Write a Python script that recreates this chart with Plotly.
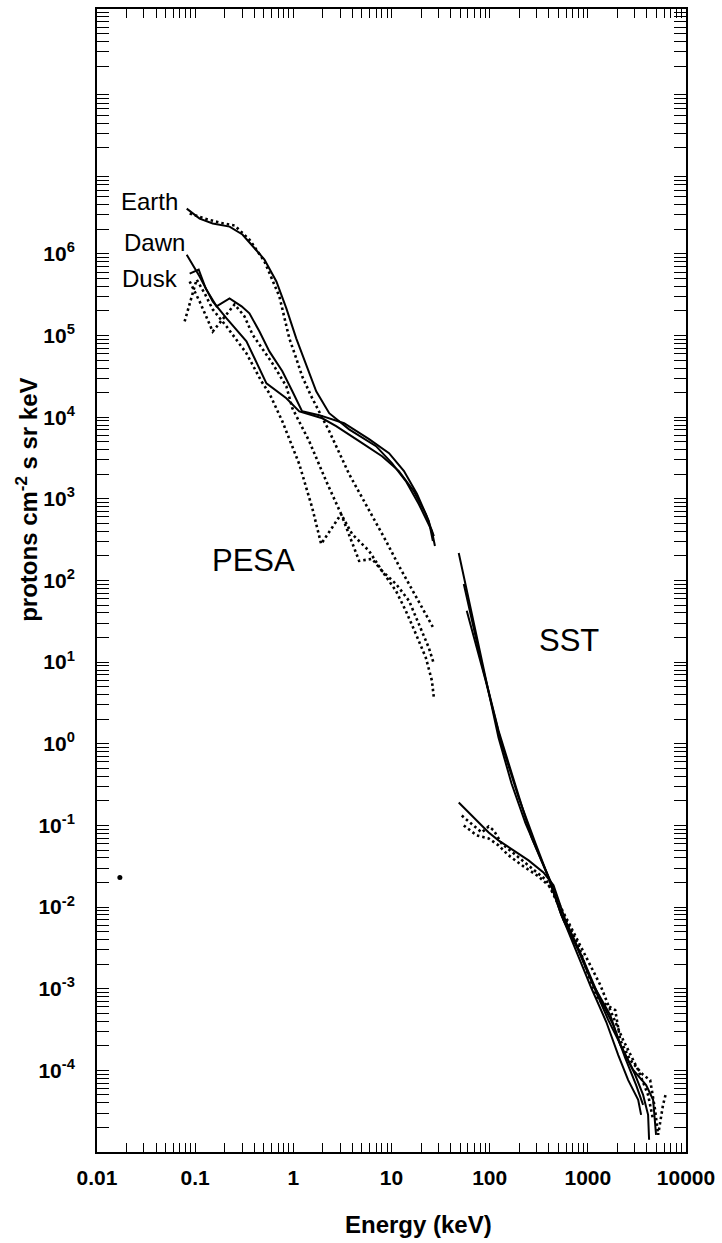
import plotly.graph_objects as go

# ---------------- data (energy keV, flux protons/(cm2 s sr keV)) ----------------
# PESA range
pesa_earth_solid_kev = [0.082, 0.111, 0.151, 0.224, 0.303, 0.508, 0.672, 0.849, 1.07, 1.36, 1.71, 2.32, 3.70, 6.96, 10.1, 14.0, 19.0, 25.8, 27.7]
pesa_earth_solid_flux = [3.59e6, 2.71e6, 2.36e6, 2.16e6, 1.73e6, 8.55e5, 4.6e5, 2.15e5, 9.25e4, 4.44e4, 2.08e4, 1.12e4, 7.1e3, 4.42e3, 2.74e3, 1.65e3, 8.6e2, 4.04e2, 2.65e2]

pesa_dawn_solid_kev = [0.082, 0.111, 0.151, 0.209, 0.333, 0.532, 0.849, 1.15, 1.97, 2.73, 4.68, 8.01, 11.9, 16.9, 22.4, 27.0]
pesa_dawn_solid_flux = [9.8e5, 5.3e5, 2.62e5, 1.62e5, 8.5e4, 2.6e4, 1.71e4, 1.18e4, 9.7e3, 7.76e3, 5.1e3, 3.33e3, 2.19e3, 1.24e3, 6.5e2, 3.5e2]

pesa_dusk_solid_kev = [0.0879, 0.1086, 0.128, 0.165, 0.224, 0.297, 0.357, 0.452, 0.570, 0.773, 0.977, 1.23, 1.84, 3.29, 5.91, 9.44, 13.4, 18.2, 24.0, 26.4]
pesa_dusk_solid_flux = [5.75e5, 6.45e5, 3.78e5, 2.28e5, 2.85e5, 2.28e5, 1.87e5, 1.12e5, 6.4e4, 3.65e4, 2.08e4, 1.18e4, 1.06e4, 8.45e3, 5.38e3, 3.63e3, 2.19e3, 1.15e3, 5.36e2, 3.05e2]

pesa_earth_dot_kev = [0.0879, 0.125, 0.177, 0.252, 0.357, 0.508, 0.721, 0.910, 1.07, 1.23, 1.52, 2.32, 3.70, 5.51, 8.79, 11.9, 15.1, 20.4, 27.0]
pesa_earth_dot_flux = [3.12e6, 2.71e6, 2.42e6, 2.23e6, 1.5e6, 8.1e5, 3.01e5, 9.25e4, 5.26e4, 3.17e4, 1.81e4, 6.75e3, 2.01e3, 8.6e2, 3.05e2, 1.51e2, 90.8, 46.2, 25.6]

pesa_dawn_dot_kev = [0.0781, 0.1035, 0.125, 0.151, 0.209, 0.333, 0.473, 0.570, 0.773, 1.15, 1.56, 1.92, 3.07, 3.88, 4.68, 6.34, 8.01, 11.1, 14.0, 17.7, 22.4, 25.8, 27.0]
pesa_dawn_dot_flux = [1.49e5, 4.86e5, 3.28e5, 2.09e5, 1.29e5, 6.06e4, 2.75e4, 1.96e4, 8.9e3, 2.66e3, 7.7e2, 2.8e2, 6.5e2, 3.05e2, 1.74e2, 1.84e2, 1.31e2, 74.6, 42.5, 22.2, 11.3, 5.93, 3.67]

pesa_dusk_dot_kev = [0.0879, 0.111, 0.151, 0.199, 0.252, 0.318, 0.384, 0.612, 0.849, 0.977, 1.45, 2.16, 3.07, 3.97, 5.91, 8.01, 11.1, 15.1, 19.0, 24.0, 27.0]
pesa_dusk_dot_flux = [4.6e5, 2.62e5, 1.12e5, 1.72e5, 2.41e5, 1.72e5, 1.03e5, 4.57e4, 2.39e4, 1.29e4, 5.1e3, 1.65e3, 6.5e2, 3.7e2, 2.3e2, 1.31e2, 90.8, 56.3, 29.5, 15.0, 9.55]

# SST range
sst_a_solid_kev = [48.4, 65.6, 91.1, 123, 167, 232, 314, 426, 564, 801, 1191, 1616, 2291, 3035, 3656, 4111, 4207]
sst_a_solid_flux = [217, 39.1, 5.93, 1.19, 0.326, 0.106, 0.0455, 0.0195, 0.0069, 0.00296, 9.6e-4, 4.13e-4, 1.77e-4, 8.8e-5, 5.0e-5, 2.85e-5, 1.41e-5]

sst_b_solid_kev = [54.5, 83.0, 123, 184, 267, 397, 538, 764, 1138, 1692, 2138, 2897, 3926, 4624, 4955]
sst_b_solid_flux = [90.8, 9.55, 1.45, 0.292, 0.0713, 0.0231, 0.00794, 0.00341, 0.00111, 4.75e-4, 2.05e-4, 1.01e-4, 6.6e-5, 4.35e-5, 1.62e-5]

sst_c_solid_kev = [58.4, 91.1, 132, 197, 293, 397, 526, 746, 1086, 1542, 2041, 2577, 3257, 3490]
sst_c_solid_flux = [42.5, 5.93, 1.0, 0.22, 0.0603, 0.0231, 0.00863, 0.00313, 0.00102, 3.91e-4, 1.54e-4, 7.6e-5, 4.35e-5, 2.85e-5]

sst_d_solid_kev = [48.4, 61.2, 77.3, 97.7, 123, 175, 249, 353, 447, 591, 859, 1279, 1815, 2402, 3105, 3656]
sst_d_solid_flux = [0.191, 0.144, 0.109, 0.082, 0.0656, 0.0494, 0.0373, 0.0266, 0.0185, 0.0069, 0.00258, 8.36e-4, 3.59e-4, 1.42e-4, 6.6e-5, 3.78e-5]

sst_e_dot_kev = [52.0, 68.8, 83.0, 97.7, 110, 132, 175, 249, 379, 564, 801, 1012, 1279, 1901, 2138, 2698, 3656, 4315, 4842, 5199, 5834, 6268]
sst_e_dot_flux = [0.132, 0.1, 0.082, 0.0973, 0.0869, 0.0603, 0.0455, 0.0324, 0.0213, 0.00794, 0.00341, 0.00147, 7.26e-4, 5.47e-4, 2.35e-4, 1.34e-4, 8.8e-5, 7.6e-5, 3.28e-5, 1.62e-5, 3.78e-5, 5.3e-5]

sst_f_dot_kev = [54.5, 73.8, 97.7, 123, 156, 221, 314, 416, 634, 944, 1340, 1692, 2291, 3257, 4111, 4624]
sst_f_dot_flux = [0.1, 0.0755, 0.0693, 0.057, 0.043, 0.0315, 0.0238, 0.0175, 0.00652, 0.00258, 0.00111, 5.47e-4, 2.35e-4, 1.01e-4, 5.0e-5, 2.48e-5]

# isolated point
point_kev = [0.0171]
point_flux = [0.0231]

# axis ticks
x_tick_vals = [0.01, 0.1, 1, 10, 100, 1000, 10000]
x_tick_text = ["0.01", "0.1", "1", "10", "100", "1000", "10000"]
y_tick_exps = [-4, -3, -2, -1, 0, 1, 2, 3, 4, 5, 6]

# ---------------- figure ----------------
FONT = "Liberation Sans, Arial, Helvetica, sans-serif"
fig = go.Figure()

solid = [
    (pesa_earth_solid_kev, pesa_earth_solid_flux),
    (pesa_dawn_solid_kev, pesa_dawn_solid_flux),
    (pesa_dusk_solid_kev, pesa_dusk_solid_flux),
    (sst_a_solid_kev, sst_a_solid_flux),
    (sst_b_solid_kev, sst_b_solid_flux),
    (sst_c_solid_kev, sst_c_solid_flux),
    (sst_d_solid_kev, sst_d_solid_flux),
]
dotted = [
    (pesa_earth_dot_kev, pesa_earth_dot_flux),
    (pesa_dawn_dot_kev, pesa_dawn_dot_flux),
    (pesa_dusk_dot_kev, pesa_dusk_dot_flux),
    (sst_e_dot_kev, sst_e_dot_flux),
    (sst_f_dot_kev, sst_f_dot_flux),
]
for xs, ys in solid:
    fig.add_trace(go.Scatter(x=xs, y=ys, mode="lines", showlegend=False, hoverinfo="skip",
                             line=dict(color="black", width=2)))
for xs, ys in dotted:
    fig.add_trace(go.Scatter(x=xs, y=ys, mode="lines", showlegend=False, hoverinfo="skip",
                             line=dict(color="black", width=2.6, dash="2.5px,3px")))
fig.add_trace(go.Scatter(x=point_kev, y=point_flux, mode="markers", showlegend=False, hoverinfo="skip",
                         marker=dict(color="black", size=5)))

x_minor = [m * 10.0 ** e for e in range(-2, 4) for m in range(2, 10)]
y_minor = [m * 10.0 ** e for e in range(-5, 9) for m in range(2, 10)]

fig.update_xaxes(
    type="log", range=[-2, 4], showline=True, linecolor="black", linewidth=2, mirror="ticks",
    ticks="inside", ticklen=9, tickwidth=1.4, tickcolor="black",
    tickvals=x_tick_vals, ticktext=x_tick_text,
    tickfont=dict(family=FONT, size=21, color="black", weight="bold"),
    minor=dict(ticks="inside", ticklen=9, tickwidth=1.4, tickcolor="black", tickvals=x_minor),
    showgrid=False, zeroline=False, ticklabelstandoff=6,
)
fig.update_yaxes(
    type="log", range=[-5, 9], showline=True, linecolor="black", linewidth=2, mirror="ticks",
    ticks="inside", ticklen=12, tickwidth=1.4, tickcolor="black",
    tickvals=[10.0 ** e for e in y_tick_exps],
    ticktext=["10<sup>%d</sup>" % e for e in y_tick_exps],
    tickfont=dict(family=FONT, size=21, color="black", weight="bold"),
    minor=dict(ticks="inside", ticklen=12, tickwidth=1.4, tickcolor="black", tickvals=y_minor),
    showgrid=False, zeroline=False, ticklabelstandoff=16,
)

ann = [
    dict(text="Earth", x=-1.462, y=6.641, size=24),
    dict(text="Dawn", x=-1.411, y=6.139, size=24),
    dict(text="Dusk", x=-1.462, y=5.699, size=24),
    dict(text="PESA", x=-0.406, y=2.240, size=31),
    dict(text="SST", x=2.812, y=1.262, size=31),
]
for a in ann:
    fig.add_annotation(text=a["text"], x=a["x"], y=a["y"], xref="x", yref="y", showarrow=False,
                       xanchor="center", yanchor="middle",
                       font=dict(family=FONT, size=a["size"], color="black"))

fig.add_annotation(text="Energy (keV)", x=0.5465, y=-0.0636, xref="paper", yref="paper",
                   showarrow=False, xanchor="center", yanchor="middle",
                   font=dict(family=FONT, size=24, color="black", weight="bold"))
fig.add_annotation(text="protons cm<sup>-2</sup> s sr keV", x=-0.118, y=0.571, xref="paper", yref="paper",
                   showarrow=False, xanchor="center", yanchor="middle", textangle=-90,
                   font=dict(family=FONT, size=24, color="black", weight="bold"))

fig.update_layout(
    width=722, height=1243, autosize=False,
    margin=dict(l=97, r=34, t=7, b=91),
    paper_bgcolor="white", plot_bgcolor="white",
    showlegend=False,
)

fig.write_html("out.html")
